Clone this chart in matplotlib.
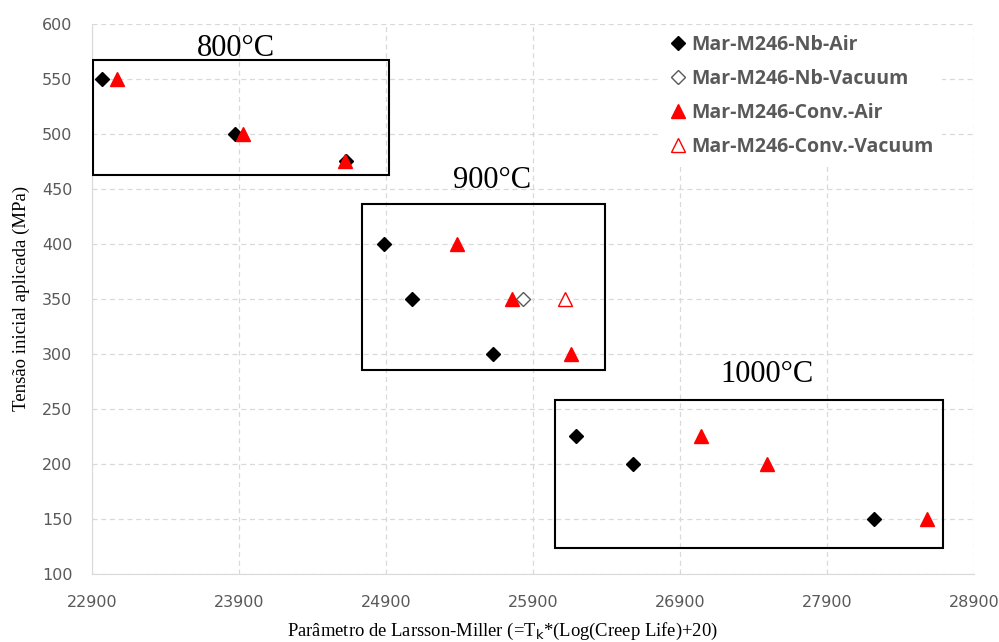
import matplotlib.pyplot as plt
from matplotlib.patches import Rectangle

# data
nb_air_x = [22970, 23870, 24630, 24890, 25080, 25630, 26190, 26580, 28220]
nb_air_y = [550, 500, 475, 400, 350, 300, 225, 200, 150]
nb_vac_x = [25830]
nb_vac_y = [350]
conv_air_x = [23070, 23930, 24620, 25380, 25760, 26160, 27040, 27490, 28580]
conv_air_y = [550, 500, 475, 400, 350, 300, 225, 200, 150]
conv_vac_x = [26120]
conv_vac_y = [350]

# temperature groups: box (x0, x1, y0, y1) and label anchor (x, baseline y)
groups = ['800°C', '900°C', '1000°C']
boxes = [(22905, 24920, 463, 567), (24737, 26391, 285, 436), (26053, 28690, 124, 258)]
label_pos = [(23880, 571), (25620, 451), (27490, 274)]

xticks = list(range(22900, 28901, 1000))
yticks = list(range(100, 601, 50))

fig = plt.figure(figsize=(9.99, 6.42), dpi=100)
ax = fig.add_axes([0.092, 0.106, 0.883, 0.857])

ax.plot(nb_air_x, nb_air_y, 'D', color='black', markersize=7.2, label='Mar-M246-Nb-Air', zorder=4)
ax.plot(nb_vac_x, nb_vac_y, 'D', markerfacecolor='white', markeredgecolor='#595959',
        markeredgewidth=1, markersize=7.2, label='Mar-M246-Nb-Vacuum', zorder=4)
ax.plot(conv_air_x, conv_air_y, '^', color='#ff0000', markersize=10, label='Mar-M246-Conv.-Air', zorder=4)
ax.plot(conv_vac_x, conv_vac_y, '^', markerfacecolor='white', markeredgecolor='#ff0000',
        markeredgewidth=1, markersize=10, label='Mar-M246-Conv.-Vacuum', zorder=4)

for name, (x0, x1, y0, y1), (lx, ly) in zip(groups, boxes, label_pos):
    ax.add_patch(Rectangle((x0, y0), x1 - x0, y1 - y0, fill=False, edgecolor='black',
                           linewidth=1.5, zorder=3))
    ax.text(lx, ly, name, ha='center', va='baseline', fontsize=22,
            family='Liberation Serif', zorder=5)

ax.set_xlim(22900, 28900)
ax.set_ylim(100, 600)
ax.set_xticks(xticks)
ax.set_yticks(yticks)
ax.grid(True, linestyle=(0, (4, 3)), color='#d9d9d9', linewidth=0.9)
ax.set_axisbelow(True)
ax.tick_params(axis='x', length=0, labelsize=11.5, colors='#595959', pad=15)
ax.tick_params(axis='y', length=0, labelsize=11.5, colors='#595959', pad=14)
for lab in ax.get_xticklabels() + ax.get_yticklabels():
    lab.set_family(['Liberation Sans Narrow', 'DejaVu Sans'])

for s in ['top', 'right']:
    ax.spines[s].set_visible(False)
ax.spines['left'].set_color('#d9d9d9')
ax.spines['bottom'].set_color('#d9d9d9')

ax.set_xlabel(r'Parâmetro de Larsson-Miller (=T$_\mathrm{k}$*(Log(Creep Life)+20)',
              family='Liberation Serif', fontsize=13.4, va='center')
ax.xaxis.set_label_coords(0.465, -0.105)
ax.set_ylabel('Tensão inicial aplicada (MPa)', family='Liberation Serif', fontsize=13.5, va='center')
ax.yaxis.set_label_coords(-0.08, 0.5)

leg = ax.legend(loc='upper left', bbox_to_anchor=(0.632, 1.013), frameon=True, facecolor='white',
                edgecolor='none', framealpha=1, fancybox=False, handletextpad=0.2,
                labelspacing=0.72, handlelength=1.0, borderpad=0.45,
                prop={'family': 'Open Sans', 'weight': 'bold', 'size': 14})
for t in leg.get_texts():
    t.set_color('#595959')

fig.savefig('out.png', dpi=100)
